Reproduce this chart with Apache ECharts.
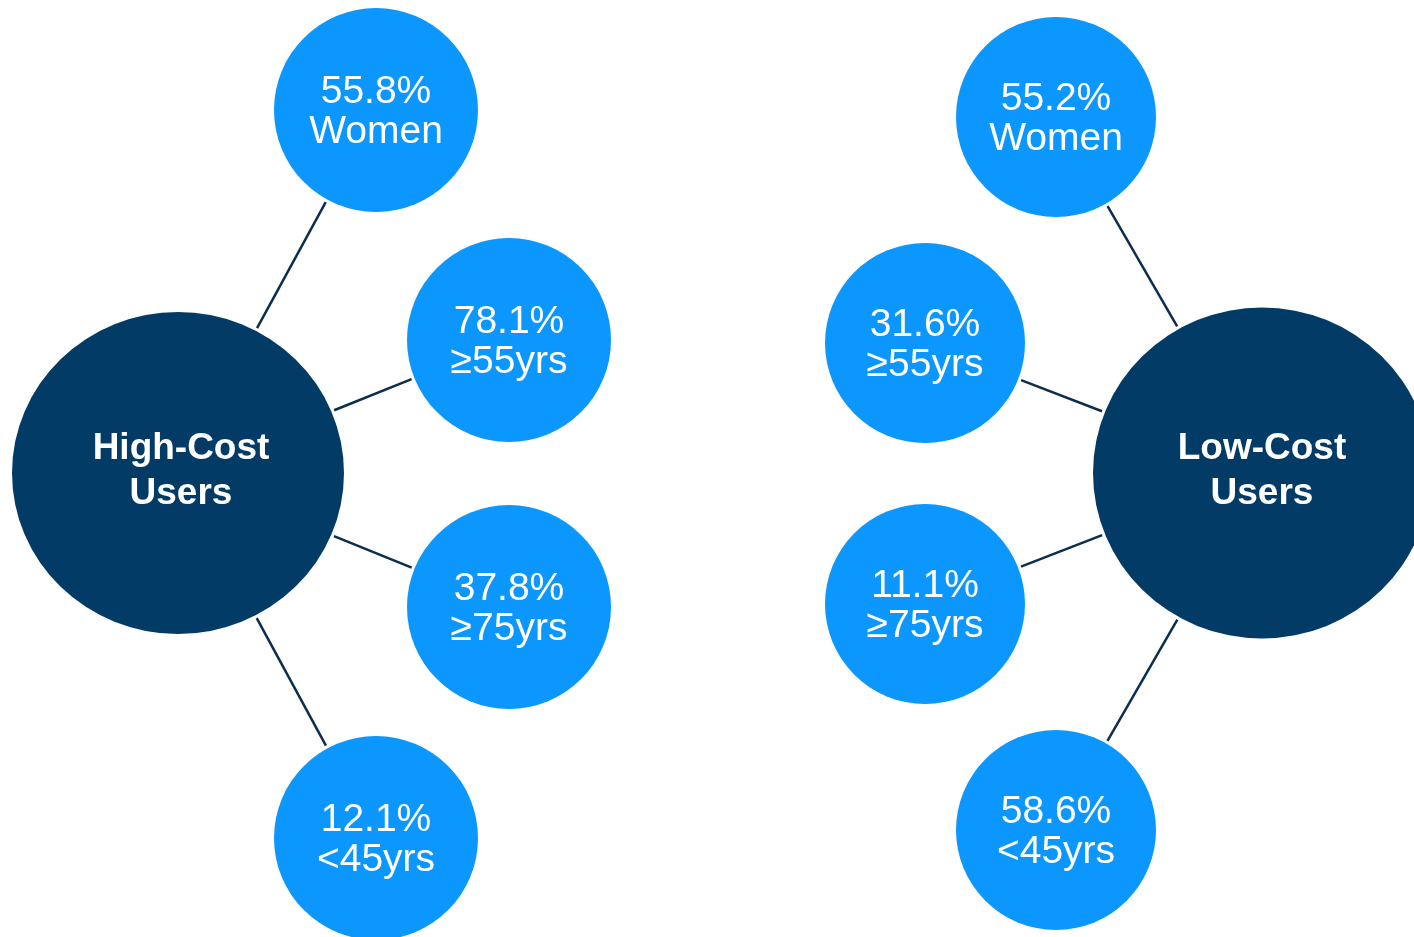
<!DOCTYPE html>
<html>
<head>
<meta charset="utf-8">
<title>High-Cost vs Low-Cost Users</title>
<script src="https://cdn.jsdelivr.net/npm/echarts@6/dist/echarts.min.js"></script>
<style>
  html, body { margin: 0; padding: 0; background: #ffffff; }
  #chart { width: 1414px; height: 937px; }
</style>
</head>
<body>
<div id="chart"></div>
<script>
// Profile data: share of each user group with a given trait
const hubNames = ['High-Cost\nUsers', 'Low-Cost\nUsers'];
const traitLabels = ['Women', '≥55yrs', '≥75yrs', '<45yrs'];
const highCostShare = [55.8, 78.1, 37.8, 12.1];
const lowCostShare = [55.2, 31.6, 11.1, 58.6];

// Diagram layout (pixel space of the canvas)
const hubCenters = [[178, 473], [1262, 473]];
const hubSizes = [[332, 322], [338, 331]];
const hubLabelShift = [[3, -2], [0, -2]];
const traitCenters = [
  [[376, 110], [509, 340], [509, 607], [376, 838]],
  [[1056, 117], [925, 343], [925, 604], [1056, 830]]
];
const traitSizes = [204, 200];

const HUB_COLOR = '#033b67';
const TRAIT_COLOR = '#0c97fe';
const LINK_COLOR = '#0b2e4f';
const FONT = '"Liberation Sans", Arial, sans-serif';

const shares = [highCostShare, lowCostShare];

const hubPoints = hubNames.map((name, i) => ({
  name: name,
  value: hubCenters[i],
  symbolSize: hubSizes[i],
  label: { offset: hubLabelShift[i] }
}));

const traitPoints = [];
shares.forEach((vals, g) => {
  vals.forEach((v, k) => {
    traitPoints.push({
      name: v.toFixed(1) + '%\n' + traitLabels[k],
      value: traitCenters[g][k],
      symbolSize: traitSizes[g]
    });
  });
});

// Connector segments, trimmed so they stop just short of each circle
const GAP = 3;
const links = [];
shares.forEach((vals, g) => {
  const [hx, hy] = hubCenters[g];
  const a = hubSizes[g][0] / 2, b = hubSizes[g][1] / 2;
  vals.forEach((v, k) => {
    const [tx, ty] = traitCenters[g][k];
    const dx = tx - hx, dy = ty - hy;
    const len = Math.hypot(dx, dy);
    const ux = dx / len, uy = dy / len;
    const rHub = 1 / Math.sqrt((ux / a) ** 2 + (uy / b) ** 2);
    const rTrait = traitSizes[g] / 2;
    links.push({
      coords: [
        [hx + ux * (rHub + GAP), hy + uy * (rHub + GAP)],
        [tx - ux * (rTrait + GAP), ty - uy * (rTrait + GAP)]
      ]
    });
  });
});

const chart = echarts.init(document.getElementById('chart'), null, { renderer: 'canvas' });
chart.setOption({
  animation: false,
  backgroundColor: '#ffffff',
  grid: { left: 0, top: 0, right: 0, bottom: 0 },
  xAxis: { type: 'value', min: 0, max: 1414, show: false },
  yAxis: { type: 'value', min: 0, max: 937, inverse: true, show: false },
  series: [
    {
      type: 'lines',
      coordinateSystem: 'cartesian2d',
      silent: true,
      z: 1,
      lineStyle: { color: LINK_COLOR, width: 2.5, opacity: 1 },
      data: links
    },
    {
      type: 'scatter',
      symbol: 'circle',
      clip: false,
      z: 2,
      itemStyle: { color: HUB_COLOR, opacity: 1 },
      label: {
        show: true,
        position: 'inside',
        formatter: p => p.name,
        color: '#ffffff',
        fontFamily: FONT,
        fontWeight: 'bold',
        fontSize: 37,
        lineHeight: 45
      },
      data: hubPoints
    },
    {
      type: 'scatter',
      symbol: 'circle',
      clip: false,
      z: 2,
      itemStyle: { color: TRAIT_COLOR, opacity: 1 },
      label: {
        show: true,
        position: 'inside',
        formatter: p => p.name,
        color: '#ffffff',
        fontFamily: FONT,
        fontSize: 39,
        lineHeight: 40,
        offset: [0, 2]
      },
      data: traitPoints
    }
  ]
});
</script>
</body>
</html>
